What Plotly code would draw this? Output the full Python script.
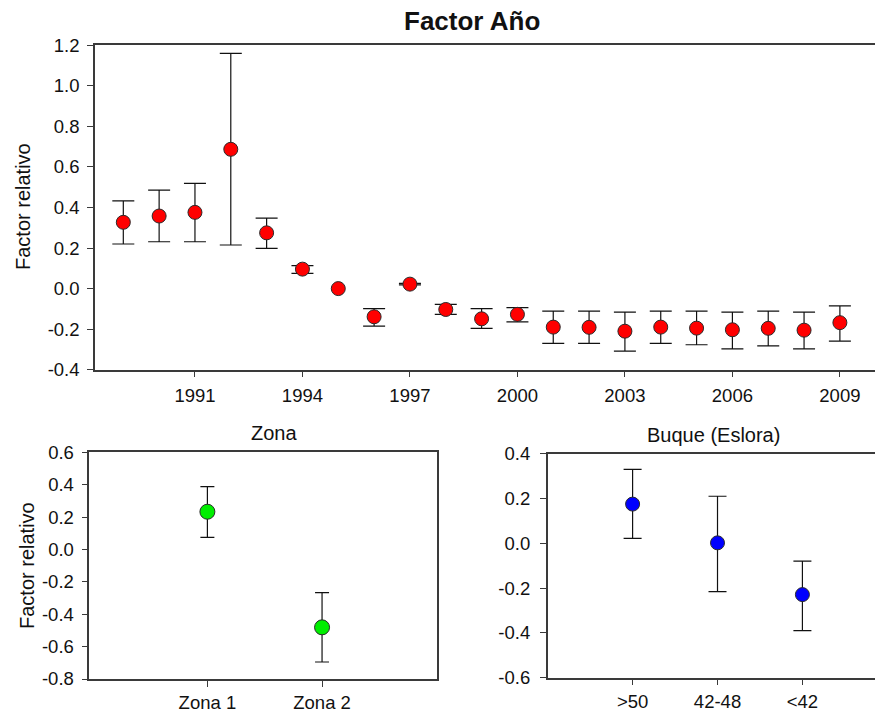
import plotly.graph_objects as go

# ---- Factor Año ----
years = list(range(1989, 2010))
year_mid = [0.327, 0.358, 0.376, 0.687, 0.275, 0.096, 0.000, -0.139, 0.022, -0.103,
            -0.149, -0.127, -0.190, -0.191, -0.210, -0.190, -0.195, -0.203, -0.196, -0.205, -0.168]
# 1995 is the reference level: no interval
year_hi = [0.433, 0.486, 0.519, 1.160, 0.348, 0.113, None, -0.099, 0.026, -0.078,
           -0.099, -0.094, -0.111, -0.111, -0.116, -0.111, -0.111, -0.116, -0.111, -0.116, -0.085]
year_lo = [0.220, 0.231, 0.231, 0.215, 0.198, 0.075, None, -0.185, 0.018, -0.127,
           -0.196, -0.164, -0.270, -0.270, -0.308, -0.270, -0.277, -0.297, -0.282, -0.297, -0.259]
year_ticks = [1991, 1994, 1997, 2000, 2003, 2006, 2009]

# ---- Zona ----
zona_labels = ["Zona 1", "Zona 2"]
zona_mid = [0.233, -0.481]
zona_hi = [0.388, -0.267]
zona_lo = [0.075, -0.695]

# ---- Buque (Eslora) ----
buque_labels = [">50", "42-48", "<42"]
buque_mid = [0.175, 0.002, -0.229]
buque_hi = [0.330, 0.210, -0.080]
buque_lo = [0.022, -0.216, -0.390]


def ylabels(vals):
    return [f"{v:.1f}" for v in vals]


W, H = 875, 712
FONT = "Liberation Sans, Arial, sans-serif"
AX = "#3a3a3a"
EDGE = "#2a2a2a"

fig = go.Figure()


def add_factor(x, mid, hi, lo, color, size, cap, xa, ya):
    # interval bars first (only where an interval exists), then the points on top
    idx = [i for i in range(len(x)) if hi[i] is not None]
    fig.add_trace(go.Scatter(
        x=[x[i] for i in idx], y=[mid[i] for i in idx], mode="markers",
        xaxis=xa, yaxis=ya, marker=dict(size=1, color="rgba(0,0,0,0)"),
        error_y=dict(type="data", symmetric=False,
                     array=[hi[i] - mid[i] for i in idx],
                     arrayminus=[mid[i] - lo[i] for i in idx],
                     color="#111111", thickness=1.2, width=cap),
        hoverinfo="skip", showlegend=False))
    fig.add_trace(go.Scatter(
        x=x, y=mid, mode="markers", xaxis=xa, yaxis=ya,
        marker=dict(size=size, color=color, line=dict(color=EDGE, width=1)),
        showlegend=False))


zona_x = [1, 2]
buque_x = [1, 2, 3]
add_factor(years, year_mid, year_hi, year_lo, "#ff0000", 14, 11, "x", "y")
add_factor(zona_x, zona_mid, zona_hi, zona_lo, "#00ee00", 15, 7, "x2", "y2")
add_factor(buque_x, buque_mid, buque_hi, buque_lo, "#0000ff", 14, 9, "x3", "y3")


def px_x(a, b):
    return [a / W, min(b / W, 1.0)]


def px_y(top, bottom):
    return [1 - bottom / H, 1 - top / H]


axis_common = dict(showgrid=False, zeroline=False, showline=True, linecolor=AX,
                   linewidth=1.5, ticks="outside", ticklen=6, tickcolor=AX,
                   automargin=False,
                   tickfont=dict(family=FONT, size=18.5, color="#111"))

yt1 = [-0.4, -0.2, 0.0, 0.2, 0.4, 0.6, 0.8, 1.0, 1.2]
yt2 = [-0.8, -0.6, -0.4, -0.2, 0.0, 0.2, 0.4, 0.6]
yt3 = [-0.6, -0.4, -0.2, 0.0, 0.2, 0.4]


def label(text, x, y, size, angle=0):
    return dict(text=text, x=x / W, y=1 - y / H, xref="paper", yref="paper",
                showarrow=False, textangle=angle,
                font=dict(family=FONT, size=size, color="#111"),
                xanchor="center", yanchor="middle")


fig.update_layout(
    width=W, height=H,
    margin=dict(l=0, r=0, t=0, b=0),
    paper_bgcolor="white", plot_bgcolor="white",
    font=dict(family=FONT, color="#111"),
    xaxis=dict(**axis_common, domain=px_x(95, 875), range=[1988.21, 2009.98],
               tickvals=year_ticks, mirror=True, anchor="y", ticklabelstandoff=2),
    yaxis=dict(**axis_common, domain=px_y(45.3, 369.7), range=[-0.4, 1.2],
               tickvals=yt1, ticktext=ylabels(yt1), anchor="x", ticklabelstandoff=4),
    xaxis2=dict(**axis_common, domain=px_x(89.3, 436.7), range=[-0.03, 3.0],
                tickvals=zona_x, ticktext=zona_labels, mirror=True, anchor="y2",
                ticklabelstandoff=0),
    yaxis2=dict(**axis_common, domain=px_y(452.3, 679), range=[-0.8, 0.6],
                tickvals=yt2, ticktext=ylabels(yt2), mirror=True, anchor="x2",
                ticklabelstandoff=4),
    xaxis3=dict(**axis_common, domain=px_x(547.7, 875), range=[0.0, 3.855],
                tickvals=buque_x, ticktext=buque_labels, mirror=True, anchor="y3",
                ticklabelstandoff=0),
    yaxis3=dict(**axis_common, domain=px_y(453.7, 677.7), range=[-0.6, 0.4],
                tickvals=yt3, ticktext=ylabels(yt3), anchor="x3", ticklabelstandoff=6),
    annotations=[
        label("<b>Factor Año</b>", 472, 21, 26),
        label("Zona", 274, 433, 20),
        label("Buque (Eslora)", 713, 435, 20),
        label("Factor relativo", 23, 207, 20, -90),
        label("Factor relativo", 27, 566, 20, -90),
    ],
)

fig.write_html("out.html")
